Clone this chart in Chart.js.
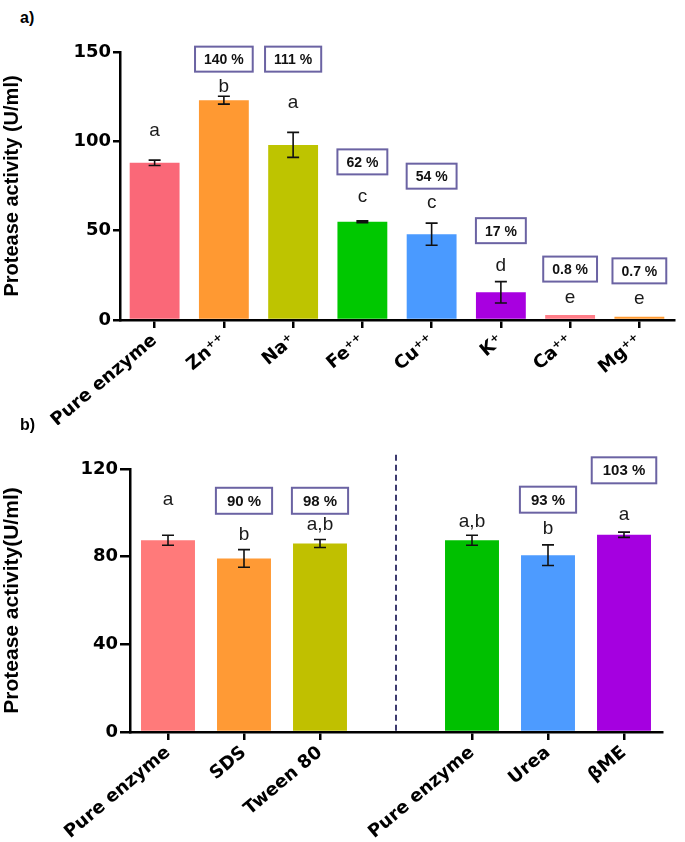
<!DOCTYPE html>
<html>
<head>
<meta charset="utf-8">
<script src="https://cdn.jsdelivr.net/npm/chart.js@4.4.1/dist/chart.umd.min.js"></script>
<style>
  body { margin: 0; background: #fff; width: 685px; height: 842px; position: relative; overflow: hidden; }
  .panel { position: absolute; left: 0; width: 685px; }
  .tag { position: absolute; left: 20px; font: bold 16px 'Liberation Sans', Arial, sans-serif; color: #000; }
</style>
</head>
<body>
<div class="tag" style="top:9px">a)</div>
<div class="panel" style="top:0;height:425px"><canvas id="metals" width="685" height="425"></canvas></div>
<div class="tag" style="top:416px">b)</div>
<div class="panel" style="top:420px;height:422px"><canvas id="additives" width="685" height="422"></canvas></div>
<script>
// panel a: metal ions
const metalLabels = ['Pure enzyme', 'Zn⁺⁺', 'Na⁺', 'Fe⁺⁺', 'Cu⁺⁺', 'K⁺', 'Ca⁺⁺', 'Mg⁺⁺'];
const metalActivity = [88, 123, 98, 55, 48, 15.5, 2.8, 1.8];
const metalError = [1.5, 2.2, 7, 0.5, 6.2, 6, 0, 0];
const metalLetters = ['a', 'b', 'a', 'c', 'c', 'd', 'e', 'e'];
const metalLetterAt = [103, 127.6, 118.6, 66, 62.7, 27.4, 9.5, 9];
const metalPercent = [null, '140 %', '111 %', '62 %', '54 %', '17 %', '0.8 %', '0.7 %'];
const metalPercentAt = [null, 146, 146, 88.5, 80.5, 50, 28.5, 27.5];
const metalColors = ['#fa6878', '#ff9932', '#bec400', '#00c800', '#4a9aff', '#a800e0', '#ff7d88', '#ff9a32'];

// panel b: additives (blank slot = divider)
const addLabels = ['Pure enzyme', 'SDS', 'Tween 80', '', 'Pure enzyme', 'Urea', 'βME'];
const addActivity = [87.5, 79.2, 86, null, 87.5, 80.7, 90];
const addError = [2.3, 4, 1.8, null, 2.3, 4.7, 1.2];
const addLetters = ['a', 'b', 'a,b', '', 'a,b', 'b', 'a'];
const addLetterAt = [103.7, 87.7, 92.2, null, 93.6, 90.4, 96.8];
const addPercent = [null, '90 %', '98 %', null, null, '93 %', '103 %'];
const addPercentAt = [null, 105.5, 105.5, null, null, 106, 119.4];
const addColors = ['#ff7a7a', '#ff9a35', '#c0c000', '#fff', '#00c000', '#4d9bff', '#a500e0'];

const TICK_FONT = { family: "'DejaVu Sans', sans-serif", weight: 'bold', size: 18 };
const LABEL_FONT = { family: "'DejaVu Sans', sans-serif", weight: 'bold', size: 18 };

// error bars, letters, % boxes, divider
const marks = {
  id: 'marks',
  afterDatasetsDraw(chart, args, o) {
    const { ctx, scales: { x, y } } = chart;
    ctx.save();
    if (o.divider != null) {
      const dx = x.getPixelForValue(o.divider);
      ctx.strokeStyle = '#3c3a6e';
      ctx.lineWidth = 2;
      ctx.setLineDash([6, 4]);
      ctx.beginPath();
      ctx.moveTo(dx, y.getPixelForValue(o.dividerTop));
      ctx.lineTo(dx, y.getPixelForValue(0));
      ctx.stroke();
      ctx.setLineDash([]);
    }
    o.values.forEach((v, i) => {
      if (v == null) return;
      const cx = x.getPixelForValue(i);
      const e = o.errors[i];
      if (e) {
        const t = y.getPixelForValue(v + e), b = y.getPixelForValue(v - e);
        ctx.strokeStyle = '#111';
        ctx.lineWidth = 1.6;
        ctx.beginPath();
        ctx.moveTo(cx, t); ctx.lineTo(cx, b);
        ctx.moveTo(cx - 6, t); ctx.lineTo(cx + 6, t);
        ctx.moveTo(cx - 6, b); ctx.lineTo(cx + 6, b);
        ctx.stroke();
      }
      ctx.fillStyle = '#1a1a1a';
      ctx.font = "19px 'Liberation Sans', Arial, sans-serif";
      ctx.textAlign = 'center';
      ctx.textBaseline = 'alphabetic';
      ctx.fillText(o.letters[i], cx, y.getPixelForValue(o.letterAt[i]));
      const p = o.percent[i];
      if (p) {
        ctx.font = "bold " + o.boxFont + "px 'Liberation Sans', Arial, sans-serif";
        const w = ctx.measureText(p).width + o.boxPad, h = o.boxH;
        const cy = y.getPixelForValue(o.percentAt[i]);
        ctx.fillStyle = '#fff';
        ctx.fillRect(cx - w / 2, cy - h / 2, w, h);
        ctx.strokeStyle = '#6b63a3';
        ctx.lineWidth = 2;
        ctx.strokeRect(cx - w / 2, cy - h / 2, w, h);
        ctx.fillStyle = '#111';
        ctx.textBaseline = 'middle';
        ctx.fillText(p, cx, cy + 1);
      }
    });
    ctx.restore();
  }
};

function makeChart(id, cfg) {
  return new Chart(document.getElementById(id), {
    type: 'bar',
    data: {
      labels: cfg.labels,
      datasets: [{
        data: cfg.values,
        backgroundColor: cfg.colors,
        barPercentage: cfg.barPct,
        categoryPercentage: 1
      }]
    },
    options: {
      responsive: false,
      animation: false,
      layout: { padding: { top: cfg.top, right: cfg.right, left: 0, bottom: 0 } },
      plugins: {
        legend: { display: false },
        tooltip: { enabled: false },
        marks: cfg.marks
      },
      scales: {
        x: {
          afterFit: s => { s.height = cfg.xHeight; },
          border: { color: '#000', width: 2.5 },
          grid: {
            offset: false, drawOnChartArea: false, tickLength: 8, lineWidth: 2.5,
            tickColor: c => (cfg.labels[c.index] === '' ? 'rgba(0,0,0,0)' : '#000')
          },
          ticks: { color: '#000', font: LABEL_FONT, minRotation: 40, maxRotation: 40, padding: 2, autoSkip: false }
        },
        y: {
          min: 0, max: cfg.max,
          afterFit: s => { s.width = cfg.yWidth; },
          border: { color: '#000', width: 2.5 },
          grid: { drawOnChartArea: false, tickLength: cfg.yTick, lineWidth: 2.5, color: '#000' },
          ticks: { stepSize: cfg.step, color: '#000', font: TICK_FONT, padding: 2 },
          title: { display: true, text: cfg.title, color: '#000', font: cfg.titleFont, padding: { top: 0, bottom: cfg.titleGap } }
        }
      }
    },
    plugins: [marks]
  });
}

makeChart('metals', {
  labels: metalLabels, values: metalActivity, colors: metalColors, barPct: 0.72,
  top: 52, right: 11, xHeight: 105, yWidth: 120, yTick: 7, max: 150, step: 50,
  title: 'Protease activity (U/ml)',
  titleFont: { family: "'Liberation Sans', Arial, sans-serif", weight: 'bold', size: 20 },
  titleGap: 26,
  marks: {
    values: metalActivity, errors: metalError, letters: metalLetters, letterAt: metalLetterAt,
    percent: metalPercent, percentAt: metalPercentAt, boxFont: 14, boxH: 25, boxPad: 18
  }
});

makeChart('additives', {
  labels: addLabels, values: addActivity, colors: addColors, barPct: 0.71,
  top: 49, right: 23, xHeight: 110, yWidth: 130, yTick: 10, max: 120, step: 40,
  title: 'Protease activity(U/ml)',
  titleFont: { family: "'Liberation Sans', Arial, sans-serif", weight: 'bold', size: 21 },
  titleGap: 34,
  marks: {
    values: addActivity, errors: addError, letters: addLetters, letterAt: addLetterAt,
    percent: addPercent, percentAt: addPercentAt, boxFont: 15, boxH: 26, boxPad: 22,
    divider: 3, dividerTop: 126.5
  }
});
</script>
</body>
</html>
